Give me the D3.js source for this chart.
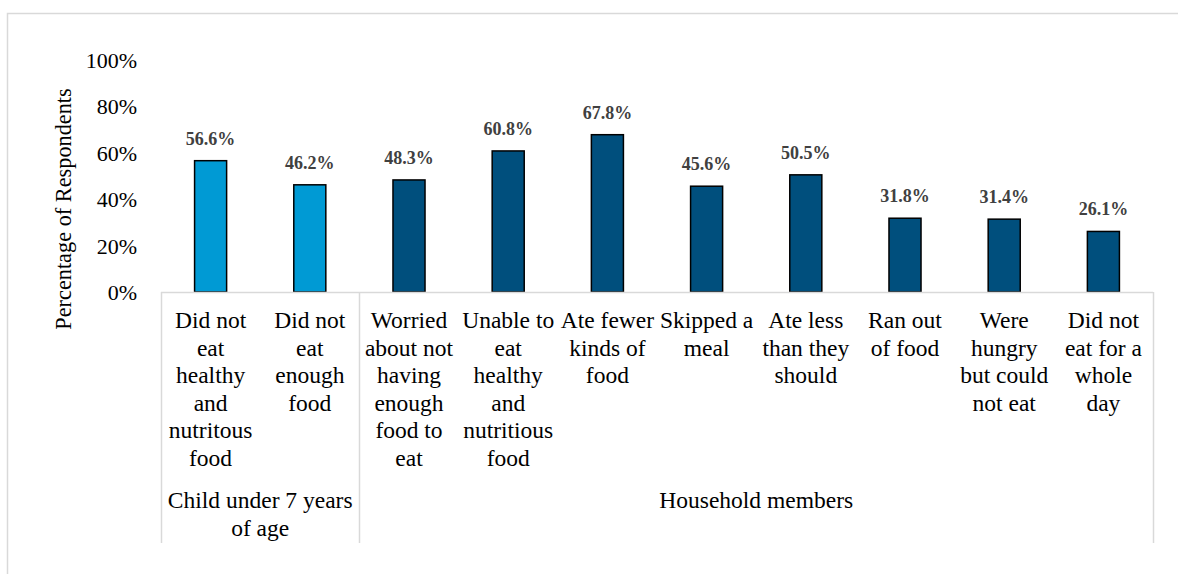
<!DOCTYPE html>
<html>
<head>
<meta charset="utf-8">
<script src="https://cdn.jsdelivr.net/npm/d3@7"></script>
<style>
  html, body { margin: 0; padding: 0; background: #fff; }
  svg { display: block; }
  svg text { font-family: "Liberation Serif", "Times New Roman", serif; }
</style>
</head>
<body>
<script>
// Food insecurity indicators, share of respondents (%)
const categories = [
  "Did not eat healthy and nutritous food",
  "Did not eat enough food",
  "Worried about not having enough food to eat",
  "Unable to eat healthy and nutritious food",
  "Ate fewer kinds of food",
  "Skipped a meal",
  "Ate less than they should",
  "Ran out of food",
  "Were hungry but could not eat",
  "Did not eat for a whole day"
];
const categoryLines = [
  ["Did not", "eat", "healthy", "and", "nutritous", "food"],
  ["Did not", "eat", "enough", "food"],
  ["Worried", "about not", "having", "enough", "food to", "eat"],
  ["Unable to", "eat", "healthy", "and", "nutritious", "food"],
  ["Ate fewer", "kinds of", "food"],
  ["Skipped a", "meal"],
  ["Ate less", "than they", "should"],
  ["Ran out", "of food"],
  ["Were", "hungry", "but could", "not eat"],
  ["Did not", "eat for a", "whole", "day"]
];
const values = [56.6, 46.2, 48.3, 60.8, 67.8, 45.6, 50.5, 31.8, 31.4, 26.1];
const groupOf = ["child", "child", "household", "household", "household",
                 "household", "household", "household", "household", "household"];
const groups = ["child", "household"];
const groupLines = [["Child under 7 years", "of age"], ["Household members"]];
const yTicks = [0, 20, 40, 60, 80, 100];
const yTitle = "Percentage of Respondents";

const W = 1178, H = 574;
const plot = { left: 161, right: 1153, top: 60, bottom: 292 };
const groupColor = { child: "#009AD4", household: "#004F7D" };
const serif = "Liberation Serif, Times New Roman, serif";

const svg = d3.select("body").append("svg").attr("width", W).attr("height", H);

// chart frame (only top and left edges fall inside the view)
svg.append("rect")
  .attr("x", 7.5).attr("y", 13.5)
  .attr("width", W + 20).attr("height", H + 20)
  .attr("fill", "none").attr("stroke", "#d9d9d9").attr("stroke-width", 1.5);

const x = d3.scaleBand()
  .domain(categories)
  .range([plot.left, plot.right])
  .paddingInner(0.677)
  .paddingOuter(0.3385);

const y = d3.scaleLinear().domain([0, 100]).range([plot.bottom, plot.top]);

// value axis: labels only
const yAxis = d3.axisLeft(y)
  .tickValues(yTicks)
  .tickFormat(d => d + "%")
  .tickSize(0)
  .tickPadding(0);
const yg = svg.append("g").attr("transform", `translate(137,0)`).call(yAxis);
yg.attr("font-family", serif);
yg.select(".domain").remove();
yg.selectAll("text")
  .attr("font-family", serif)
  .attr("font-size", 22)
  .attr("fill", "#000")
  .attr("dy", "0.34em");

// axis title
svg.append("text")
  .attr("transform", `translate(71,209) rotate(-90)`)
  .attr("text-anchor", "middle")
  .attr("font-family", serif)
  .attr("font-size", 22.3)
  .attr("fill", "#000")
  .text(yTitle);

// bars
svg.append("g").selectAll("rect")
  .data(categories)
  .join("rect")
  .attr("x", d => x(d))
  .attr("y", (d, i) => y(values[i]))
  .attr("width", x.bandwidth())
  .attr("height", (d, i) => y(0) - y(values[i]))
  .attr("fill", (d, i) => groupColor[groupOf[i]])
  .attr("stroke", "#000")
  .attr("stroke-width", 1.5);

// value labels
svg.append("g").selectAll("text")
  .data(categories)
  .join("text")
  .attr("x", d => x(d) + x.bandwidth() / 2)
  .attr("y", (d, i) => y(values[i]) - 16)
  .attr("text-anchor", "middle")
  .attr("font-family", serif)
  .attr("font-size", 18)
  .attr("font-weight", "bold")
  .attr("fill", "#404040")
  .text((d, i) => values[i].toFixed(1) + "%");

// category axis line and group dividers
const axisColor = "#d9d9d9";
const step = x.step();
const catStart = i => plot.left + i * step;
svg.append("line")
  .attr("x1", plot.left).attr("x2", plot.right)
  .attr("y1", plot.bottom + 0.5).attr("y2", plot.bottom + 0.5)
  .attr("stroke", axisColor).attr("stroke-width", 1.5);

const groupSpans = groups.map(g => {
  const idx = groupOf.map((v, i) => v === g ? i : -1).filter(i => i >= 0);
  return { g, x0: catStart(idx[0]), x1: catStart(idx[idx.length - 1] + 1) };
});
const dividers = [plot.left, ...groupSpans.map(s => s.x1)];
svg.append("g").selectAll("line")
  .data(dividers)
  .join("line")
  .attr("x1", d => Math.round(d) + 0.5).attr("x2", d => Math.round(d) + 0.5)
  .attr("y1", plot.bottom).attr("y2", 543)
  .attr("stroke", axisColor).attr("stroke-width", 1.5);

// category labels
const lineH = 27.5;
const catG = svg.append("g");
categories.forEach((c, i) => {
  const t = catG.append("text")
    .attr("text-anchor", "middle")
    .attr("font-family", serif)
    .attr("font-size", 23.5)
    .attr("fill", "#000");
  categoryLines[i].forEach((ln, k) => {
    t.append("tspan")
      .attr("x", x(c) + x.bandwidth() / 2)
      .attr("y", 328 + k * lineH)
      .text(ln);
  });
});

// group labels
groupSpans.forEach((s, gi) => {
  const t = svg.append("text")
    .attr("text-anchor", "middle")
    .attr("font-family", serif)
    .attr("font-size", 23.5)
    .attr("fill", "#000");
  groupLines[gi].forEach((ln, k) => {
    t.append("tspan")
      .attr("x", (s.x0 + s.x1) / 2)
      .attr("y", 508 + k * lineH)
      .text(ln);
  });
});
</script>
</body>
</html>
